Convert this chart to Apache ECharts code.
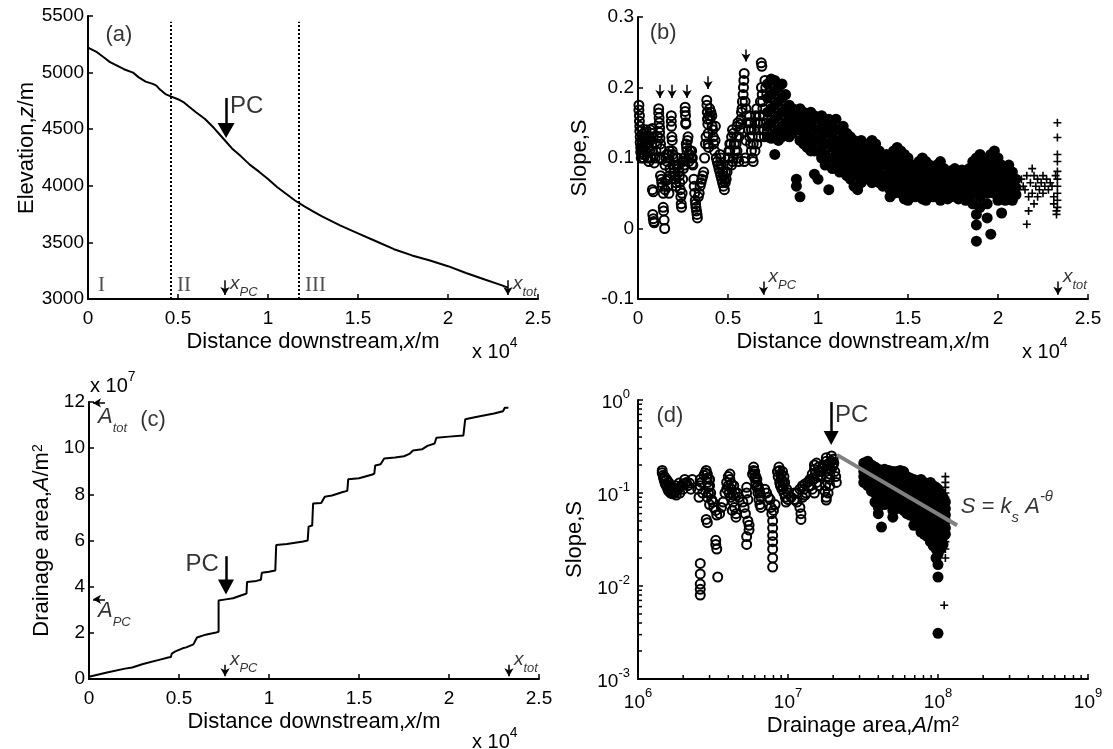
<!DOCTYPE html>
<html><head><meta charset="utf-8">
<script src="https://cdn.jsdelivr.net/npm/echarts/dist/echarts.min.js"></script>
<style>html,body{margin:0;padding:0;background:#fff}#c{width:1113px;height:749px}</style>
</head><body><div id="c"></div><script>
// ---------------- data ----------------
// (a) elevation profile: [distance (x10^4 m), elevation m]
const elevation = [[0,5220],[0.05,5180],[0.1,5120],[0.12,5095],[0.15,5070],[0.2,5030],[0.25,5000],[0.28,4960],[0.32,4920],[0.36,4900],[0.38,4885],[0.4,4850],[0.43,4810],[0.46,4790],[0.5,4765],[0.53,4740],[0.56,4700],[0.6,4650],[0.65,4590],[0.7,4510],[0.75,4420],[0.8,4330],[0.85,4260],[0.9,4185],[0.95,4125],[1.0,4060],[1.05,3990],[1.1,3930],[1.15,3870],[1.2,3820],[1.25,3775],[1.3,3730],[1.35,3690],[1.4,3650],[1.5,3580],[1.6,3510],[1.7,3440],[1.8,3385],[1.9,3340],[2.0,3290],[2.1,3230],[2.2,3175],[2.3,3120],[2.333,3100]];
const zoneBounds = [0.459, 1.172];
const zoneLabels = [['I',0.056],['II',0.494],['III',1.206]];

// (c) drainage area: [distance (x10^4 m), area (x10^7 m^2)]
const drainage = [[0,0.1],[0.1,0.28],[0.2,0.45],[0.24,0.5],[0.3,0.65],[0.4,0.85],[0.44,0.93],[0.455,0.95],[0.46,1.1],[0.48,1.2],[0.52,1.33],[0.54,1.37],[0.58,1.5],[0.59,1.5],[0.6,1.8],[0.64,1.9],[0.66,1.94],[0.7,2.0],[0.72,2.05],[0.72,3.4],[0.76,3.45],[0.8,3.5],[0.86,3.66],[0.875,3.7],[0.878,4.2],[0.93,4.25],[0.955,4.3],[0.96,4.6],[1.0,4.65],[1.035,4.7],[1.04,5.8],[1.1,5.85],[1.19,5.96],[1.215,6.0],[1.22,6.6],[1.24,6.65],[1.245,7.6],[1.29,7.62],[1.31,7.9],[1.35,7.95],[1.41,8.1],[1.435,8.15],[1.44,8.65],[1.5,8.7],[1.57,8.85],[1.585,8.9],[1.59,9.25],[1.62,9.3],[1.64,9.55],[1.7,9.6],[1.75,9.65],[1.78,9.75],[1.8,9.9],[1.85,9.95],[1.88,10.1],[1.92,10.2],[1.93,10.45],[2.0,10.5],[2.08,10.55],[2.09,11.25],[2.15,11.35],[2.25,11.5],[2.3,11.6],[2.31,11.75],[2.33,11.75]];

// (b) slope vs distance
const slopeOpen = [[0.005,0.175],[0.005,0.168],[0.008,0.16],[0.008,0.152],[0.01,0.145],[0.01,0.138],[0.012,0.13],[0.012,0.122],[0.015,0.115],[0.015,0.108],[0.018,0.1],[0.02,0.112],[0.022,0.12],
[0.03,0.128],[0.035,0.136],[0.04,0.13],[0.045,0.14],[0.05,0.12],[0.05,0.108],[0.055,0.1],[0.06,0.095],[0.065,0.11],[0.07,0.125],[0.075,0.135],[0.08,0.142],[0.085,0.13],[0.09,0.093],[0.095,0.1],
[0.025,0.105],[0.028,0.115],[0.032,0.1],[0.038,0.11],[0.042,0.12],[0.048,0.128],[0.058,0.115],[0.062,0.13],[0.068,0.14],[0.072,0.1],[0.078,0.11],[0.1,0.11],[0.105,0.12],[0.108,0.13],
[0.08,0.055],[0.085,0.052],[0.082,0.02],[0.085,0.014],[0.088,0.01],[0.09,0.008],
[0.115,0.17],[0.115,0.164],[0.117,0.157],[0.118,0.15],[0.12,0.143],[0.12,0.136],[0.122,0.128],[0.125,0.12],[0.128,0.113],[0.13,0.098],[0.12,0.1],
[0.125,0.075],[0.13,0.07],[0.132,0.065],[0.135,0.06],[0.14,0.05],[0.14,0.03],[0.142,0.025],[0.145,0.012],[0.148,0.0],[0.15,0.055],[0.155,0.068],
[0.15,0.09],[0.155,0.1],[0.16,0.105],[0.162,0.095],
[0.185,0.16],[0.185,0.152],[0.186,0.145],[0.188,0.13],[0.19,0.125],[0.19,0.11],[0.192,0.105],[0.195,0.1],[0.198,0.09],[0.2,0.085],[0.202,0.08],[0.205,0.075],[0.208,0.07],[0.21,0.065],[0.212,0.06],[0.17,0.105],[0.175,0.11],[0.165,0.07],[0.168,0.06],[0.172,0.05],[0.175,0.075],[0.178,0.085],
[0.215,0.09],[0.218,0.1],[0.248,0.07],[0.252,0.085],
[0.22,0.1],[0.222,0.09],[0.225,0.085],[0.228,0.08],[0.23,0.075],[0.232,0.065],[0.235,0.055],[0.238,0.045],[0.24,0.035],[0.242,0.03],[0.245,0.05],
[0.262,0.172],[0.262,0.166],[0.264,0.16],[0.265,0.15],[0.266,0.148],[0.268,0.12],[0.27,0.115],[0.272,0.11],[0.275,0.125],[0.278,0.13],[0.28,0.1],[0.282,0.095],[0.285,0.105],[0.29,0.11],[0.295,0.1],[0.3,0.092],[0.255,0.1],[0.258,0.09],[0.25,0.095],
[0.298,0.11],[0.302,0.1],[0.305,0.09],
[0.31,0.07],[0.312,0.06],[0.315,0.05],[0.318,0.04],[0.32,0.035],[0.322,0.03],[0.325,0.025],[0.328,0.02],[0.33,0.015],[0.335,0.045],[0.34,0.05],
[0.345,0.06],[0.35,0.065],[0.355,0.07],[0.36,0.075],[0.365,0.08],[0.37,0.1],[0.375,0.12],[0.378,0.13],
[0.382,0.182],[0.383,0.175],[0.385,0.165],[0.386,0.155],[0.388,0.148],[0.39,0.135],[0.39,0.12],[0.392,0.115],[0.395,0.16],[0.398,0.17],[0.4,0.155],
[0.405,0.165],[0.41,0.16],[0.412,0.145],[0.415,0.14],[0.418,0.13],[0.42,0.12],[0.425,0.11],[0.428,0.125],[0.43,0.145],[0.435,0.1],[0.44,0.095],
[0.445,0.09],[0.45,0.085],[0.455,0.08],[0.46,0.075],[0.465,0.07],[0.47,0.065],[0.475,0.06],[0.48,0.055],[0.455,0.105],[0.46,0.1],
[0.46,0.09],[0.47,0.08],[0.475,0.075],[0.48,0.07],[0.485,0.065],[0.485,0.08],
[0.49,0.07],[0.495,0.08],[0.5,0.09],[0.505,0.1],[0.51,0.11],[0.515,0.12],[0.52,0.13],[0.525,0.14],[0.53,0.135],[0.535,0.12],[0.54,0.11],[0.52,0.09],[0.525,0.095],[0.53,0.1],
[0.5,0.1],[0.505,0.11],[0.51,0.12],[0.545,0.12],[0.548,0.13],[0.55,0.11],[0.555,0.1],[0.56,0.095],
[0.59,0.22],[0.588,0.21],[0.586,0.2],[0.584,0.19],[0.58,0.18],[0.578,0.17],[0.575,0.165],[0.572,0.155],[0.57,0.148],[0.565,0.14],[0.56,0.13],[0.555,0.15],[0.55,0.145],[0.595,0.18],[0.6,0.17],[0.6,0.125],[0.595,0.1],[0.59,0.095],[0.605,0.16],
[0.61,0.15],[0.615,0.14],[0.62,0.13],[0.625,0.12],[0.63,0.11],[0.635,0.1],[0.64,0.095],[0.645,0.14],[0.65,0.15],[0.655,0.16],[0.66,0.17],[0.665,0.15],[0.67,0.13],
[0.62,0.16],[0.625,0.15],[0.63,0.14],[0.635,0.13],[0.64,0.12],[0.65,0.11],[0.66,0.12],[0.67,0.14],[0.675,0.16],[0.68,0.18],[0.68,0.15],
[0.685,0.235],[0.688,0.23],[0.686,0.2],[0.69,0.19],[0.692,0.18],[0.694,0.17],[0.696,0.16],[0.698,0.15],[0.7,0.14],[0.702,0.13],[0.705,0.21],[0.71,0.2],[0.715,0.19]];

// filled markers, grouped by distance: [x, [S values]]
const slopeFilledCols = [[0.72,[0.205,0.185,0.165,0.145,0.13]],[0.74,[0.212,0.19,0.17,0.15,0.128]],[0.76,[0.21,0.195,0.175,0.155,0.135,0.105]],[0.78,[0.2,0.18,0.16,0.14,0.125]],[0.8,[0.205,0.185,0.165,0.145,0.13]],[0.82,[0.19,0.17,0.15,0.135]],[0.84,[0.175,0.16,0.145,0.13]],[0.86,[0.17,0.155,0.14,0.135]],[0.88,[0.165,0.15,0.14,0.07,0.06]],[0.9,[0.17,0.155,0.14,0.125,0.045]],[0.92,[0.165,0.15,0.135,0.12]],[0.94,[0.16,0.145,0.13,0.115]],[0.96,[0.165,0.15,0.135,0.12,0.11]],[0.98,[0.16,0.14,0.125,0.11,0.077]],[1.0,[0.155,0.14,0.125,0.11,0.07]],[1.02,[0.16,0.145,0.13,0.115,0.1]],[1.04,[0.15,0.135,0.12,0.105,0.09]],[1.06,[0.155,0.14,0.12,0.1,0.055]],[1.08,[0.145,0.13,0.115,0.1,0.085]],[1.1,[0.155,0.14,0.12,0.105,0.09]],[1.12,[0.14,0.125,0.11,0.095,0.08]],[1.14,[0.145,0.13,0.115,0.1,0.085]],[1.16,[0.135,0.12,0.105,0.09,0.075]],[1.18,[0.13,0.115,0.1,0.085,0.07]],[1.2,[0.125,0.11,0.095,0.08,0.06]],[1.22,[0.12,0.105,0.09,0.075,0.055]],[1.24,[0.125,0.11,0.095,0.08,0.065]],[1.26,[0.12,0.105,0.09,0.075]],[1.28,[0.115,0.1,0.085,0.07]],[1.3,[0.125,0.11,0.095,0.08,0.065]],[1.32,[0.12,0.105,0.09,0.075]],[1.34,[0.11,0.095,0.08,0.065]],[1.36,[0.1,0.09,0.075,0.06]],[1.38,[0.105,0.09,0.075,0.065]],[1.4,[0.1,0.085,0.07,0.055,0.045]],[1.42,[0.11,0.095,0.08,0.065,0.05]],[1.44,[0.115,0.1,0.085,0.07,0.055]],[1.46,[0.11,0.095,0.08,0.065,0.05]],[1.48,[0.105,0.09,0.075,0.06,0.042]],[1.5,[0.1,0.085,0.07,0.055,0.04]],[1.52,[0.09,0.075,0.06,0.045]],[1.54,[0.085,0.07,0.058,0.045]],[1.56,[0.095,0.08,0.065,0.05]],[1.58,[0.1,0.085,0.07,0.055,0.042]],[1.6,[0.095,0.08,0.065,0.05,0.04]],[1.62,[0.09,0.075,0.06,0.048]],[1.64,[0.085,0.07,0.06,0.045]],[1.66,[0.09,0.078,0.065,0.05]],[1.68,[0.095,0.08,0.065,0.05,0.04]],[1.7,[0.085,0.07,0.058,0.045]],[1.72,[0.08,0.068,0.055,0.042]],[1.74,[0.082,0.07,0.058,0.045]],[1.76,[0.085,0.072,0.06,0.048]],[1.78,[0.08,0.068,0.055,0.042]],[1.8,[0.083,0.07,0.058,0.045]],[1.82,[0.078,0.065,0.052,0.04]],[1.84,[0.085,0.07,0.055,0.045]],[1.86,[0.095,0.08,0.065,0.05,0.035]],[1.88,[0.1,0.085,0.07,0.055,0.02,0.005,-0.018]],[1.9,[0.105,0.09,0.075,0.06,0.045,0.03]],[1.92,[0.1,0.085,0.07,0.055]],[1.94,[0.095,0.08,0.065,0.05,0.035,0.015]],[1.96,[0.105,0.09,0.075,0.06,-0.008]],[1.98,[0.11,0.095,0.08,0.065,0.05]],[2.0,[0.1,0.085,0.07,0.055,0.04]],[2.02,[0.09,0.075,0.06,0.045,0.022]],[2.04,[0.085,0.07,0.055,0.04]],[2.06,[0.09,0.075,0.06,0.045]],[2.08,[0.08,0.065,0.05,0.04]],[2.1,[0.07,0.058,0.048]]];

const slopePlus = [[2.13,0.07],[2.14,0.06],[2.15,0.055],[2.16,0.075],[2.16,0.006],[2.17,0.045],[2.17,0.025],[2.18,0.065],[2.19,0.085],[2.19,0.05],[2.2,0.075],[2.2,0.035],[2.21,0.06],[2.22,0.07],[2.22,0.045],[2.23,0.055],[2.24,0.065],[2.25,0.075],[2.25,0.05],[2.26,0.06],[2.27,0.07],[2.28,0.055],[2.29,0.065],[2.3,0.06],[2.31,0.045],[2.31,0.035],[2.32,0.075],[2.325,0.025],[2.33,0.15],[2.33,0.129],[2.33,0.105],[2.33,0.095],[2.33,0.081],[2.33,0.07],[2.33,0.06],[2.33,0.05],[2.33,0.04],[2.33,0.03],[2.325,0.02]];
const peakArrowsB = [[0.122,0.204,0.181],[0.189,0.204,0.181],[0.272,0.204,0.181],[0.389,0.216,0.194],[0.6,0.254,0.233]];

// (d) slope vs drainage area: [A m^2, S]
const areaOpen = [[1.45e6,0.175],[1.45e6,0.165],[1.47e6,0.155],[1.48e6,0.145],[1.5e6,0.135],[1.52e6,0.125],[1.55e6,0.118],[1.58e6,0.11],[1.6e6,0.105],[1.65e6,0.1],[1.7e6,0.098],[1.75e6,0.1],[1.8e6,0.105],[1.85e6,0.11],[1.9e6,0.115],[1.95e6,0.12],[2.0e6,0.125],[2.1e6,0.13],[2.2e6,0.128],[1.62e6,0.12],[1.7e6,0.115],[1.78e6,0.12],[1.88e6,0.128],
[1.5e6,0.15],[1.55e6,0.14],[1.6e6,0.13],[1.65e6,0.11],[1.72e6,0.105],[1.8e6,0.095],[1.9e6,0.1],[2.0e6,0.11],[2.05e6,0.14],[2.15e6,0.12],[2.25e6,0.11],[2.3e6,0.14],
[2.5e6,0.11],[2.55e6,0.09],[2.6e6,0.12],[2.6e6,0.14],[2.65e6,0.13],[2.6e6,0.0175],[2.6e6,0.0135],[2.6e6,0.0105],[2.6e6,0.0092],[2.6e6,0.008],
[2.85e6,0.175],[2.9e6,0.16],[2.9e6,0.145],[2.9e6,0.13],[2.95e6,0.115],[2.95e6,0.1],[2.9e6,0.09],[3.0e6,0.075],[2.85e6,0.052],[2.9e6,0.048],
[2.7e6,0.1],[2.75e6,0.155],[2.8e6,0.165],[3.0e6,0.12],[3.0e6,0.14],[3.05e6,0.1],[3.1e6,0.085],[3.15e6,0.08],
[3.2e6,0.07],[3.3e6,0.065],[3.35e6,0.058],[3.3e6,0.031],[3.3e6,0.028],[3.35e6,0.025],[3.4e6,0.0125],[3.5e6,0.06],[3.6e6,0.07],[3.7e6,0.08],
[3.8e6,0.1],[3.9e6,0.11],[4.0e6,0.15],[4.1e6,0.16],[4.1e6,0.14],[4.2e6,0.125],[4.2e6,0.11],[4.3e6,0.095],[4.3e6,0.08],[4.4e6,0.07],[4.5e6,0.06],[4.5e6,0.055],[4.6e6,0.1],[4.7e6,0.09],
[3.9e6,0.13],[4.0e6,0.12],[4.05e6,0.1],[4.15e6,0.09],[4.25e6,0.065],[4.35e6,0.12],[4.45e6,0.1],
[5.0e6,0.08],[5.1e6,0.07],[5.2e6,0.06],[5.3e6,0.115],[5.3e6,0.1],[5.4e6,0.085],[5.4e6,0.05],[5.5e6,0.045],[5.5e6,0.04],[5.3e6,0.034],[5.3e6,0.028],
[5.9e6,0.19],[5.9e6,0.175],[6.0e6,0.16],[6.0e6,0.145],[6.1e6,0.13],[6.2e6,0.115],[6.3e6,0.1],[6.4e6,0.085],[6.5e6,0.075],[6.6e6,0.07],
[5.8e6,0.16],[6.0e6,0.17],[6.1e6,0.15],[6.2e6,0.14],[6.3e6,0.12],[6.4e6,0.11],[6.5e6,0.1],[6.6e6,0.09],
[7.0e6,0.11],[7.2e6,0.1],[7.4e6,0.09],[7.6e6,0.085],[7.7e6,0.07],[7.8e6,0.06],[7.9e6,0.05],[7.9e6,0.042],[7.9e6,0.035],[7.9e6,0.03],[7.9e6,0.025],[7.9e6,0.02],[7.9e6,0.016],[8.0e6,0.065],[8.2e6,0.075],
[8.5e6,0.17],[8.7e6,0.19],[8.8e6,0.175],[9.0e6,0.16],[9.0e6,0.145],[9.2e6,0.13],[9.3e6,0.115],[9.4e6,0.1],[9.6e6,0.09],[9.7e6,0.08],[9.2e6,0.17],
[8.6e6,0.15],[8.8e6,0.13],[8.9e6,0.12],[9.1e6,0.11],[9.4e6,0.15],[9.5e6,0.13],[9.8e6,0.11],[1.0e7,0.1],[1.0e7,0.085],
[1.05e7,0.09],[1.1e7,0.085],[1.15e7,0.1],[1.2e7,0.11],[1.2e7,0.07],[1.22e7,0.06],[1.22e7,0.052],[1.25e7,0.12],[1.3e7,0.125],[1.3e7,0.095],[1.35e7,0.13],
[1.1e7,0.1],[1.15e7,0.08],[1.25e7,0.09],[1.28e7,0.11],[1.32e7,0.1],[1.38e7,0.12],
[1.4e7,0.14],[1.45e7,0.16],[1.5e7,0.2],[1.5e7,0.18],[1.55e7,0.21],[1.6e7,0.19],[1.6e7,0.17],[1.65e7,0.15],[1.45e7,0.11],[1.5e7,0.1],
[1.42e7,0.12],[1.48e7,0.14],[1.52e7,0.16],[1.55e7,0.13],[1.58e7,0.15],[1.62e7,0.12],[1.68e7,0.17],[1.7e7,0.19],[1.72e7,0.2],
[1.8e7,0.24],[1.8e7,0.22],[1.85e7,0.2],[1.85e7,0.18],[1.9e7,0.16],[1.9e7,0.14],[1.9e7,0.12],[1.85e7,0.1],[1.8e7,0.09],[1.8e7,0.084],[1.95e7,0.25],[2.0e7,0.23],[2.0e7,0.2],[2.05e7,0.17],[2.1e7,0.13],
[1.82e7,0.15],[1.88e7,0.21],[1.92e7,0.18],[1.95e7,0.22],[1.98e7,0.19],[2.02e7,0.21],[2.08e7,0.15],[1.78e7,0.12],[1.76e7,0.105]];

const areaFilledCols = [[3.2e7,[0.21,0.19,0.17,0.15,0.13]],[3.4e7,[0.22,0.2,0.18,0.16,0.14,0.12]],[3.6e7,[0.2,0.18,0.16,0.14,0.12,0.105]],[3.8e7,[0.19,0.17,0.15,0.13,0.115,0.1,0.08]],[4.0e7,[0.18,0.16,0.14,0.12,0.1,0.085,0.07,0.06]],[4.2e7,[0.175,0.155,0.135,0.115,0.1,0.085,0.043]],[4.4e7,[0.18,0.16,0.14,0.12,0.105,0.09,0.075]],[4.7e7,[0.175,0.155,0.135,0.115,0.1,0.085]],[5.0e7,[0.17,0.15,0.13,0.11,0.095,0.08,0.065,0.055]],[5.3e7,[0.17,0.15,0.13,0.11,0.095,0.08,0.068]],[5.6e7,[0.175,0.155,0.135,0.115,0.1,0.085,0.07]],[5.9e7,[0.17,0.15,0.13,0.11,0.095,0.08,0.065]],[6.2e7,[0.15,0.13,0.115,0.1,0.085,0.07,0.06]],[6.5e7,[0.145,0.125,0.11,0.095,0.08,0.068,0.058]],[6.9e7,[0.14,0.12,0.105,0.09,0.078,0.066,0.055,0.045]],[7.3e7,[0.13,0.115,0.1,0.088,0.076,0.064,0.054,0.045]],[7.7e7,[0.14,0.12,0.105,0.09,0.078,0.066,0.055,0.046,0.038]],[8.1e7,[0.13,0.115,0.1,0.086,0.074,0.063,0.053,0.044,0.036]],[8.5e7,[0.125,0.11,0.095,0.082,0.07,0.06,0.05,0.042,0.034]],[8.9e7,[0.13,0.115,0.1,0.086,0.074,0.063,0.053,0.044,0.036,0.03]],[9.3e7,[0.12,0.105,0.09,0.078,0.066,0.056,0.047,0.04,0.033,0.027]],[9.7e7,[0.115,0.1,0.088,0.076,0.065,0.055,0.046,0.038,0.031,0.025,0.02]],[1.0e8,[0.11,0.095,0.082,0.07,0.06,0.05,0.042,0.035,0.028,0.022,0.017,0.0125,0.0031]],[1.04e8,[0.1,0.088,0.076,0.065,0.055,0.046,0.038,0.031,0.025]],[1.08e8,[0.09,0.078,0.066,0.056,0.047,0.04,0.034,0.028]],[1.12e8,[0.08,0.068,0.058,0.05,0.042,0.036]]];
const areaPlus = [[1.12e8,0.15],[1.12e8,0.13],[1.12e8,0.115],[1.12e8,0.1],[1.12e8,0.09],[1.12e8,0.08],[1.12e8,0.07],[1.12e8,0.06],[1.12e8,0.05],[1.12e8,0.04],[1.12e8,0.035],[1.12e8,0.03],[1.12e8,0.025],[1.12e8,0.02],[1.1e8,0.0062],[1.08e8,0.075],[1.08e8,0.065],[1.08e8,0.055],[1.08e8,0.045]];
const fitLine = [[2.12e7,0.257],[1.34e8,0.045]];

// annotation anchors (data units)
const xPC = 0.761, xPCb = 0.697, xTot = 2.333;

// ---------------- chart ----------------
const FONT = '"Liberation Sans", Arial, Helvetica, sans-serif';
const SERIF = '"Liberation Serif", "Times New Roman", serif';
const flatCols = cols => cols.flatMap(([x, ss]) => ss.map(s => [x, s]));
const PLUS = 'path://M4,0H6V4H10V6H6V10H4V6H0V4H4Z';

const RICH = {
  p:{fontSize:22,fontFamily:FONT,color:'#000'},
  t:{fontSize:24,fontFamily:FONT,color:'#000'},
  r:{fontSize:21,fontFamily:SERIF,color:'#222'},
  i:{fontSize:19,fontStyle:'italic',fontFamily:FONT,color:'#000',verticalAlign:'top',padding:[0,0,6,0]},
  ii:{fontSize:22,fontStyle:'italic',fontFamily:FONT,color:'#000',verticalAlign:'top',padding:[0,0,7,0]},
  s:{fontSize:13,fontStyle:'italic',fontFamily:FONT,color:'#000',verticalAlign:'bottom'},
  fi:{fontSize:22,fontStyle:'italic',fontFamily:FONT,color:'#000',verticalAlign:'middle',padding:[7,0,7,0]},
  fn:{fontSize:22,fontFamily:FONT,color:'#000',verticalAlign:'middle',padding:[7,0,7,0]},
  fs:{fontSize:15,fontStyle:'italic',fontFamily:FONT,color:'#000',verticalAlign:'bottom'},
  fe:{fontSize:15,fontStyle:'italic',fontFamily:FONT,color:'#000',verticalAlign:'top'}
};
const NAME_RICH = {
  i:{fontStyle:'italic',fontSize:22,fontFamily:FONT,color:'#000'},
  e:{fontSize:14,fontFamily:FONT,color:'#000',verticalAlign:'top'}
};
const nameStyle = (extra) => Object.assign({fontSize:22,fontFamily:FONT,color:'#000',rich:NAME_RICH}, extra||{});
const plainNum = v => String(+v.toFixed(6));
const axisBase = {
  axisLine:{show:true,onZero:false,lineStyle:{color:'#000',width:2}},
  axisTick:{show:true,inside:true,length:5,lineStyle:{color:'#000',width:1.5}},
  axisLabel:{color:'#000',fontSize:19,fontFamily:FONT,formatter:plainNum},
  splitLine:{show:false}
};
const logLabel = {color:'#000',fontSize:19,fontFamily:FONT,
  formatter: v => '{b|10}{e|' + Math.round(Math.log10(v)) + '}',
  rich:{b:{fontSize:19,fontFamily:FONT,color:'#000',verticalAlign:'bottom',padding:[6,0,0,0]},
        e:{fontSize:13,fontFamily:FONT,color:'#000',verticalAlign:'top'}}};

// minor log ticks for panel (d): [value on axis, 0 = x axis / 1 = y axis]
const minorTickVals = [];
for (let d = 6; d < 9; d++) for (let k = 2; k <= 9; k++) minorTickVals.push([k * Math.pow(10, d), 1e-3, 0]);
for (let d = -3; d < 0; d++) for (let k = 2; k <= 9; k++) minorTickVals.push([1e6, k * Math.pow(10, d), 1]);

function xDist(grid){ return Object.assign({}, axisBase, {gridIndex:grid,type:'value',min:0,max:2.5,interval:0.5,
  name:'Distance downstream,{i|x}/m',nameLocation:'middle',nameGap:32,nameTextStyle:nameStyle(),
  axisLabel:Object.assign({}, axisBase.axisLabel,{margin:10})}); }

const arrowSeg = (x1,y1,x2,y2,head,size,w) => [
  {coord:[x1,y1],symbol:'none',lineStyle:{width:w,color:'#000',type:'solid'}},
  {coord:[x2,y2],symbol:head,symbolSize:size}];

function annot(idx, items, lines){
  return {type:'scatter',xAxisIndex:idx,yAxisIndex:idx,symbolSize:0,silent:true,z:20,
    label:{show:true,position:'inside',color:'#000',fontFamily:FONT,rich:RICH},
    data:items.map(([x,y,txt,al,va]) => ({value:[x,y],label:{formatter:txt,align:al,verticalAlign:va||'middle'}})),
    markLine:{silent:true,animation:false,symbol:['none','none'],label:{show:false},
      emphasis:{disabled:true},lineStyle:{color:'#000',type:'solid',width:2},data:lines}};
}

const openStyle = {color:'rgba(0,0,0,0)',borderColor:'#000',borderWidth:2,opacity:1};
const fillStyle = {color:'#000',opacity:1};
const x10 = (left, top, exp) => ({type:'text',left:left,top:top,silent:true,style:{text:'{n|x 10}{e|'+exp+'}',
  rich:{n:{fontSize:20,fontFamily:FONT,fill:'#000',verticalAlign:'bottom',padding:[6,0,0,0]},e:{fontSize:14,fontFamily:FONT,fill:'#000',verticalAlign:'top'}}}});

const option = {
  animation:false,
  backgroundColor:'#fff',
  grid:[
    {left:88,top:16,width:450,height:283},
    {left:638,top:17,width:450,height:282},
    {left:89,top:402,width:450,height:277},
    {left:638,top:400,width:450,height:279}
  ],
  xAxis:[
    xDist(0), xDist(1), xDist(2),
    Object.assign({}, axisBase, {gridIndex:3,type:'log',logBase:10,min:1e6,max:1e9,
      name:'Drainage area,{i|A}/m{e|2}',nameLocation:'middle',nameGap:36,nameTextStyle:nameStyle(),
      axisLabel:Object.assign({margin:8}, logLabel)})
  ],
  yAxis:[
    Object.assign({}, axisBase, {gridIndex:0,type:'value',min:3000,max:5500,interval:500,
      name:'Elevation,{i|z}/m',nameLocation:'middle',nameRotate:90,nameGap:50,nameTextStyle:nameStyle({padding:[0,0,0,19]}),
      axisLabel:Object.assign({}, axisBase.axisLabel,{margin:4})}),
    Object.assign({}, axisBase, {gridIndex:1,type:'value',min:-0.1,max:0.3,interval:0.1,
      name:'Slope,S',nameLocation:'middle',nameRotate:90,nameGap:47,nameTextStyle:nameStyle(),
      axisLabel:Object.assign({}, axisBase.axisLabel,{margin:4})}),
    Object.assign({}, axisBase, {gridIndex:2,type:'value',min:0,max:12,interval:2,
      name:'Drainage area,{i|A}/m{e|2}',nameLocation:'middle',nameRotate:90,nameGap:36,nameTextStyle:nameStyle(),
      axisLabel:Object.assign({}, axisBase.axisLabel,{margin:4})}),
    Object.assign({}, axisBase, {gridIndex:3,type:'log',logBase:10,min:1e-3,max:1,
      name:'Slope,S',nameLocation:'middle',nameRotate:90,nameGap:52,nameTextStyle:nameStyle(),
      axisLabel:Object.assign({margin:8}, logLabel)})
  ],
  graphic:[ x10(472,336,4), x10(1022,336,4), x10(472,726,4), x10(90,370,7) ],
  series:[
    // (a)
    {type:'line',xAxisIndex:0,yAxisIndex:0,data:elevation,showSymbol:false,symbol:'none',
      lineStyle:{color:'#000',width:2},z:3,
      markLine:{silent:true,symbol:['none','none'],label:{show:false},emphasis:{disabled:true},
        lineStyle:{color:'#000',type:'dotted',width:2},
        data:zoneBounds.map(b => [{coord:[b,3000]},{coord:[b,5450]}])}},
    annot(0, [
      [0.172,5332,'{p|(a)}','center'],
      [0.789,4705,'{t|PC}','left'],
      ...zoneLabels.map(([t,x]) => [x,3025,'{r|'+t+'}','left','bottom']),
      [xPC+0.028,3110,'{i|x}{s|PC}','left'],
      [xTot+0.028,3110,'{i|x}{s|tot}','left']
    ], [
      arrowSeg(0.767,4776,0.767,4489,'triangle',[17,15],2.5),
      arrowSeg(xPC,3165,xPC,3035,'arrow',[7,8],1.5),
      arrowSeg(xTot,3165,xTot,3035,'arrow',[7,8],1.5)
    ]),
    // (b)
    {type:'scatter',xAxisIndex:1,yAxisIndex:1,data:slopeOpen,symbol:'circle',symbolSize:9,itemStyle:openStyle,z:2},
    {type:'scatter',xAxisIndex:1,yAxisIndex:1,data:flatCols(slopeFilledCols),symbol:'circle',symbolSize:11,itemStyle:fillStyle,z:2},
    {type:'scatter',xAxisIndex:1,yAxisIndex:1,data:slopePlus,symbol:PLUS,symbolSize:8,itemStyle:fillStyle,z:2},
    annot(1, [
      [0.14,0.277,'{p|(b)}','center'],
      [0.703,0.303,'{t|PC}','left'],
      [xPCb+0.028,-0.072,'{i|x}{s|PC}','left'],
      [xTot+0.028,-0.072,'{i|x}{s|tot}','left']
    ], [
      arrowSeg(0.689,0.302,0.689,0.262,'triangle',[16,15],2.5),
      ...peakArrowsB.map(([x,y1,y2]) => arrowSeg(x,y1,x,y2+0.004,'arrow',[7,8],1.5)),
      arrowSeg(xPCb,-0.075,xPCb,-0.094,'arrow',[7,8],1.5),
      arrowSeg(xTot,-0.075,xTot,-0.094,'arrow',[7,8],1.5)
    ]),
    // (c)
    {type:'line',xAxisIndex:2,yAxisIndex:2,data:drainage,showSymbol:false,symbol:'none',lineStyle:{color:'#000',width:2},z:3},
    annot(2, [
      [0.05,11.2,'{ii|A}{s|tot}','left'],
      [0.356,11.22,'{p|(c)}','center'],
      [0.05,2.8,'{ii|A}{s|PC}','left'],
      [0.721,4.96,'{t|PC}','right'],
      [0.783,0.72,'{i|x}{s|PC}','left'],
      [xTot+0.028,0.72,'{i|x}{s|tot}','left']
    ], [
      arrowSeg(0.761,5.32,0.761,3.99,'triangle',[16,15],2.5),
      [{coord:[0.089,11.96],symbol:'none',lineStyle:{width:1.5,color:'#000',type:'solid'}},{coord:[0.022,11.96],symbol:'arrow',symbolSize:[7,8]}],
      [{coord:[0.089,3.45],symbol:'none',lineStyle:{width:1.5,color:'#000',type:'solid'}},{coord:[0.022,3.45],symbol:'arrow',symbolSize:[7,8]}],
      arrowSeg(0.756,0.62,0.756,0.12,'arrow',[7,8],1.5),
      arrowSeg(xTot,0.62,xTot,0.12,'arrow',[7,8],1.5)
    ]),
    // (d)
    {type:'scatter',xAxisIndex:3,yAxisIndex:3,data:areaOpen,symbol:'circle',symbolSize:9,itemStyle:openStyle,z:2},
    {type:'scatter',xAxisIndex:3,yAxisIndex:3,data:flatCols(areaFilledCols),symbol:'circle',symbolSize:11,itemStyle:fillStyle,z:2},
    {type:'scatter',xAxisIndex:3,yAxisIndex:3,data:areaPlus,symbol:PLUS,symbolSize:8,itemStyle:fillStyle,z:2},
    {type:'line',xAxisIndex:3,yAxisIndex:3,data:fitLine,showSymbol:false,symbol:'none',lineStyle:{color:'#808080',width:4},z:5},
    {type:'custom',xAxisIndex:3,yAxisIndex:3,data:minorTickVals,silent:true,clip:false,z:6,
      renderItem:(params, api) => {
        const p = api.coord([api.value(0), api.value(1)]);
        const vertical = api.value(2) === 0;
        return {type:'line',shape:vertical ? {x1:p[0],y1:p[1],x2:p[0],y2:p[1]-4} : {x1:p[0],y1:p[1],x2:p[0]+4,y2:p[1]},
          style:{stroke:'#000',lineWidth:1.5}};
      }},
    annot(3, [
      [1.63e6,0.673,'{p|(d)}','center'],
      [2.06e7,0.69,'{t|PC}','left'],
      [1.42e8,0.071,'{fi|S}{fn| = }{fi|k}{fs|s}{fn| }{fi|A}{fe|-θ}','left']
    ], [
      arrowSeg(1.94e7,0.95,1.94e7,0.39,'triangle',[15,14],2.5)
    ])
  ]
};
const chart = echarts.init(document.getElementById('c'), null, {renderer:'canvas'});
chart.setOption(option);
</script></body></html>
